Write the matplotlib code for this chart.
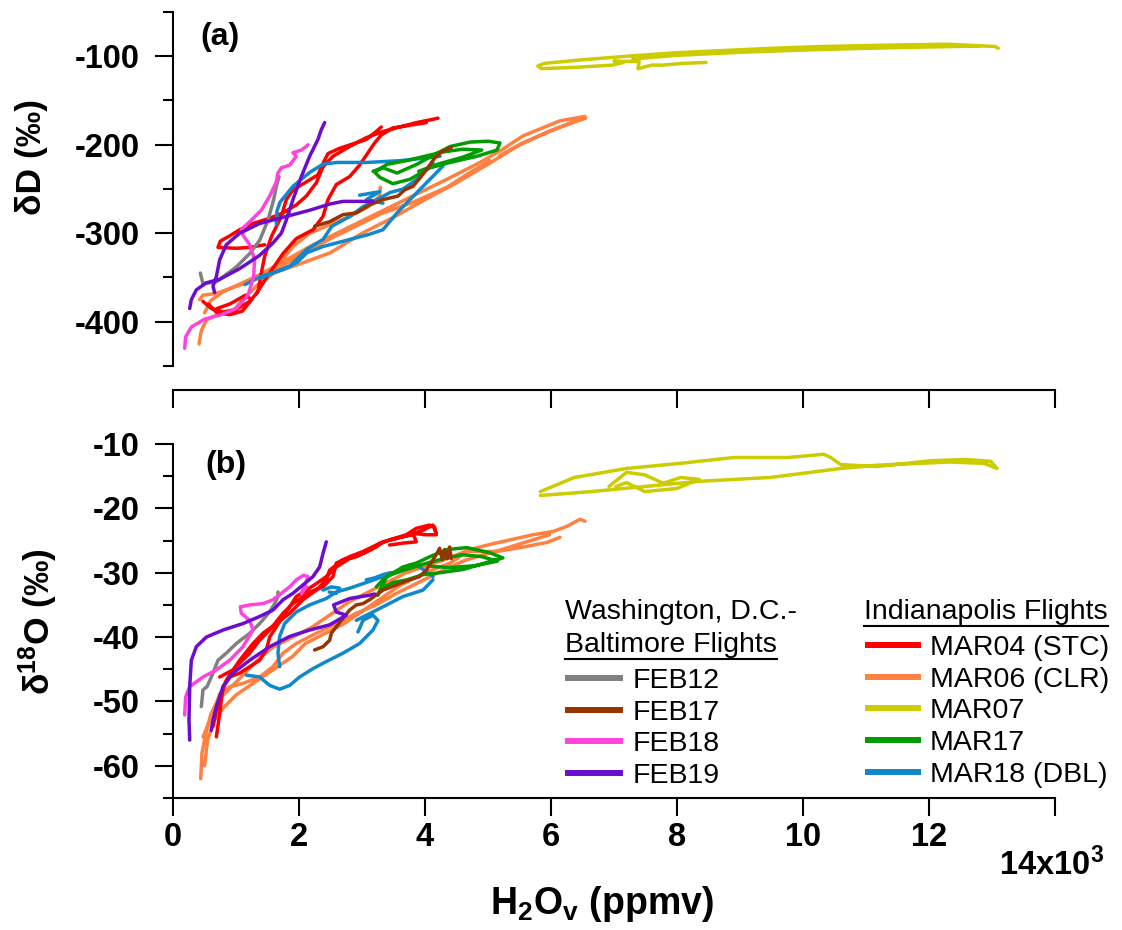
import matplotlib
matplotlib.use("Agg")
import matplotlib.pyplot as plt
import numpy as np
from matplotlib.lines import Line2D
from matplotlib.ticker import MultipleLocator, FuncFormatter

nan = np.nan

# ---- data: H2Ov (ppmv) vs dD (panel a) and d18O (panel b), nan = gap ----
feb12_xa = [434, 476, 688, 1005, 1217, 1376, 1508, 1598, 1640, 1683]
feb12_da = [-345, -357, -355, -338, -323, -308, -285, -262, -247, -236]
feb12_xb = [450, 476, 540, 635, 714, 846, 1005, 1217, 1375, 1534, 1613, 1666, 1666]
feb12_ob = [-50.8, -48.2, -47.7, -45.6, -43.6, -42.5, -41.0, -39.4, -37.9, -36.1, -34.8, -33.7, -33.0]

feb17_xa = [2248, 2486, 2698, 2910, 3121, 3333, 3571, 3677, 3809, 3915, 4047, 4153, 4259, 4338, 4417]
feb17_da = [-292, -287, -279, -277, -268, -262, -258, -251, -247, -238, -226, -215, -208, -206, -203]
feb17_xb = [2248, 2381, 2486, 2513, 2592, 2698, 2804, 2910, 3016, 3121, 3333, 3544, 3756, 3915, 4020,
            4126, 4190, 4232, 4274, 4311, 4354, 4391, 4417]
feb17_ob = [-42.0, -41.5, -40.5, -39.4, -38.4, -37.1, -35.8, -35.0, -34.8, -34.2, -32.7, -31.9, -31.1, -30.6,
            -29.6, -28.0, -27.0, -26.2, -28.0, -26.4, -27.8, -26.0, -27.8]

feb18_xa = [185, 201, 291, 503, 767, 1005, 1190, 1280, 1296, 1217, 1111, 1084, 1217, 1402, 1534, 1640,
            1666, 1719, 1852, 1957, 1904, 2037, 2116, 2142]
feb18_da = [-430, -417, -406, -397, -392, -385, -370, -349, -330, -313, -302, -296, -287, -274, -258, -242,
            -232, -226, -223, -213, -209, -206, -202, -200]
feb18_xb = [185, 201, 265, 476, 688, 899, 1111, 1270, 1217, 1084, 1069, 1217, 1428, 1587, 1719, 1852,
            1957, 2074, 2142, 2074, 2037, 2116]
feb18_ob = [-52.1, -49.3, -47.7, -46.2, -45.1, -43.6, -41.5, -38.9, -37.4, -36.3, -35.3, -35.0, -34.8, -34.2,
            -33.2, -32.2, -31.1, -30.4, -30.6, -32.4, -33.2, -32.2]

feb19_xa = [2407, 2354, 2301, 2169, 2037, 1904, 1799, 1719, 1587, 1375, 1058, 741, 529, 370, 291, 265, nan,
            661, 635, 688, 741, 846, 1058, 1375, 1746, 2169, 2486, 2698, 2910, 3174]
feb19_da = [-175, -183, -194, -213, -236, -262, -285, -300, -311, -325, -340, -352, -356, -364, -375, -385, nan,
            -367, -360, -349, -330, -313, -300, -289, -282, -274, -267, -264, -264, -264]
feb19_xb = [265, 254, 265, 291, 370, 529, 794, 1111, 1375, 1587, 1746, 1904, 2063, 2222, 2328, 2381, 2433, nan,
            608, 635, 688, 794, 952, 1217, 1534, 1852, 2169, 2486, 2751, 2592, 2550, 2804, 3121, 3200]
feb19_ob = [-56.0, -52.9, -47.7, -43.6, -41.5, -40.0, -38.9, -37.9, -36.8, -35.8, -34.2, -33.2, -31.9, -30.6,
            -29.1, -27.0, -25.2, nan,
            -54.5, -52.9, -50.8, -47.7, -45.6, -43.6, -41.5, -39.9, -38.9, -38.1, -36.6, -36.1, -35.0, -34.0,
            -33.5, -33.3]

mar04_xa = [1455, 1217, 1005, 714, 750, 899, 1058, 1270, 1534, 1746, 1957, 2116, 2275, 2381, 2539, 2804,
            3068, 3333, 3650, 3862, 4073, 4206, nan,
            476, 608, 794, 1005, 1217, 1349, 1402, 1455, 1561, 1719, 1799, 1904, 2116, 2301, 2381, 2460,
            2645, 2857, 3068, 3227, 3306, nan,
            1323, 1534, 1746, 1957, 2222, 2381, 2460, 2592, 2804, 2962, 3095, 3200, 3306, 3491, 3756, 4020, nan,
            560, 700, 900, 1100, 1250, 1150, 900, 700]
mar04_da = [-313, -316, -317, -316, -309, -303, -296, -289, -283, -277, -268, -258, -243, -225, -213, -202,
            -192, -185, -179, -175, -172, -170, nan,
            -377, -385, -389, -386, -377, -366, -345, -326, -304, -281, -262, -251, -242, -234, -221, -210,
            -204, -199, -194, -185, -180, nan,
            -368, -345, -323, -306, -296, -281, -262, -245, -236, -223, -209, -198, -189, -181, -178, -175, nan,
            -380, -390, -392, -388, -375, -370, -380, -385]
mar04_xb = [688, 741, 794, 899, 1058, 1217, 1375, 1481, 1534, 1640, 1746, 1852, 1957, 2116, 2275, 2433,
            2592, 2804, 3016, 3227, 3333, 3544, 3756, 3968, 4126, 4179, nan,
            741, 952, 1217, 1375, 1534, 1746, 1904, 2169, 2381, 2539, 2592, 2804, 3016, 3227, 3439, 3650, 3809, nan,
            635, 714, 846, 1058, 1270, 1428, 1640, 1852, 2063, 2275, 2433, 2486, 2698, 2910, 3121, 3280, nan,
            3439, 3703, 3862, 4073, 4153, 4179, 4020, 3809, 3862, 3650, 3439]
mar04_ob = [-55.5, -51.9, -47.7, -46.2, -45.6, -44.6, -43.6, -42.0, -40.0, -38.4, -36.8, -35.3, -33.7, -32.7,
            -31.7, -30.6, -29.1, -27.8, -27.0, -26.0, -25.2, -24.7, -24.1, -23.4, -22.6, -23.9, nan,
            -46.2, -45.1, -42.5, -40.5, -38.9, -36.3, -34.8, -33.0, -32.2, -30.6, -28.5, -27.5, -26.7, -25.7,
            -24.9, -24.4, -24.1, nan,
            -53.9, -50.3, -46.7, -43.6, -41.0, -39.4, -37.9, -36.3, -34.2, -32.7, -31.1, -29.6, -28.0, -27.5,
            -26.5, -25.4, nan,
            -24.9, -24.1, -23.1, -22.6, -22.9, -24.1, -24.1, -23.9, -25.2, -25.4, -25.7]

mar06_xa = [413, 450, 530, 700, 950, 1150, 1350, 1600, 2000, 2500, 3000, 3500, 4000, 4500, 5000, 5500,
            6000, 6300, 6550, nan,
            500, 600, 800, 1100, 1400, 1800, 2200, 2600, 3000, 3400, 3800, 4349, 4872, 5237, 5555, 5900,
            6142, 6538, nan,
            1300, 1700, 2100, 2500, 2900, 3300, 3809, 4349, 4700, 5031, nan, 5190, 5555, 5936, 6253, 6500, nan,
            1640, 1904, 2169, 2433, 2804, 3100, 3280, 3290, nan,
            423, 476, 688, 1005, 1323]
mar06_da = [-425, -410, -398, -392, -388, -372, -358, -345, -335, -322, -300, -282, -262, -243, -222, -200,
            -184, -176, -170, nan,
            -390, -376, -366, -356, -346, -330, -314, -300, -286, -272, -258, -239, -220, -205, -190, -180,
            -173, -168, nan,
            -352, -338, -322, -306, -292, -278, -265, -248, -232, -218, nan, -212, -198, -186, -177, -170, nan,
            -338, -315, -300, -292, -281, -270, -258, -248, nan,
            -375, -370, -368, -360, -352]
mar06_xb = [476, 635, 741, 899, 1111, 1375, 1587, 1746, 1957, 2275, 2592, 2910, 3227, 3544, 3862, 4285,
            4655, 5184, 5977, nan,
            440, 460, 520, 600, 700, 800, 1000, 1200, 1400, 1600, 1900, 2200, 2500, 2800, 3100, 3400, 3700,
            4000, 4300, 4713, 5031, 5396, 5713, 6031, 6253, 6459, 6538, nan,
            500, 550, 650, 800, 1000, 1300, 1600, 1900, 2100, 2400, 2700, 3000, 3300, 3600, 4000, 4400, 4666,
            5142, 5507, 5935, 6142]
mar06_ob = [-55.5, -51.9, -48.8, -47.7, -47.2, -46.2, -44.6, -42.5, -41.0, -39.4, -37.9, -36.3, -35.0, -33.2,
            -31.7, -29.6, -28.0, -26.5, -24.1, nan,
            -62, -58, -55, -52, -50, -49, -47, -45, -43, -41.5, -40, -38.5, -36.5, -34.5, -33, -31.5, -30,
            -29, -28, -26.4, -25.6, -24.8, -24.1, -23.6, -22.8, -21.7, -22.0, nan,
            -60, -56, -53, -51, -49, -47, -45, -43, -41, -39.5, -38, -36, -34, -32, -30, -28.5, -26.7,
            -26.7, -26.1, -25.3, -24.5]

mar07_xa = [13100, 13050, 12300, 11300, 10300, 9500, 8900, 8000, 7200, 6500, 5900, 5790, 5850, 6400, 6980,
            7150, 7000, 7400, 7380, 7600, 7780, 8100, 8460, nan,
            7300, 8000, 9000, 10000, 11000, 12000, 12800]
mar07_da = [-91, -89, -86.4, -87.5, -89, -91, -93, -96, -100, -104, -108, -111, -114, -112.5, -110,
            -107, -105.5, -106, -114, -110, -110, -108, -107, nan,
            -103, -99, -95.5, -93, -91, -89.5, -88.5]
mar07_xb = [5830, 6370, 7200, 8060, 8900, 9760, 10330, 10440, 10600, 11170, 12030, 12590, 12980,
            13080, 12870, 12320, 11170, 10600, 9480, 8350, 7490, 6630, 5830, nan,
            6920, 7200, 7490, 7780, 8060, 8350, 8000, 7490, 7200, 7030]
mar07_ob = [-17.4, -15.2, -13.8, -13.0, -12.1, -12.1, -11.6, -12.1, -13.2, -13.5, -12.6, -12.4, -12.7,
            -13.8, -13.0, -12.8, -13.3, -13.8, -15.2, -15.8, -16.6, -17.4, -18.0, nan,
            -16.6, -14.4, -14.8, -16.1, -15.2, -15.5, -16.9, -17.4, -16.0, -16.6]

mar17_xa = [3175, 3333, 3556, 3873, 4127, 4397, 4714, 5000, 5190, 5143, 4825, 4397, 4080, 3762, 3492, 3286,
            3200, 3400, 3700, 4000, 4300, 4600, 4900, 4600, 4200, 3900]
mar17_da = [-230, -226, -232, -222, -212, -202, -197, -196, -198, -206, -213, -220, -226, -239, -244, -237,
            -231, -222, -218, -213, -208, -205, -206, -214, -222, -230]
mar17_xb = [3227, 3333, 3500, 3650, 3862, 4079, 4349, 4666, 5031, 5237, 4983, 4602, 4237, 3968, 3714, 3500,
            3300, 3250, 3400, 3700, 4000, 4300, 4600, 4900, 5150, 4800, 4400, 4100]
mar17_ob = [-32.2, -31.1, -30.0, -29.1, -28.5, -27.5, -26.4, -26.1, -26.9, -27.7, -28.4, -29.5, -30.0, -30.3,
            -31.1, -31.5, -32.5, -33.5, -30.5, -29.5, -28.6, -27.8, -27.2, -27.5, -28.2, -28.9, -29.2, -29.0]

mar18_xa = [1143, 1381, 1746, 1968, 2127, 2381, 2809, 3126, 3333, 3556, 3762, 3968, 4190, 4285, nan,
            1381, 1857, 2127, 2381, 2523, 2809, 3016, 3238, 3444, 3651, 3873, 4127, nan,
            1640, 1650, 1698, 1904, 2174, 2381, 2603, 3079, 3603, 3873, 4127, 4238, nan,
            2962, 3280, 3070, 3333]
mar18_da = [-358, -349, -341, -333, -322, -315, -307, -301, -296, -277, -262, -247, -231, -224, nan,
            -351, -337, -318, -307, -292, -281, -270, -262, -254, -250, -239, -220, nan,
            -290, -275, -265, -247, -231, -222, -220, -220, -218, -216, -214, -213, nan,
            -257, -253, -262, -266]
mar18_xb = [1164, 1375, 1534, 1693, 1852, 2010, 2222, 2433, 2698, 2962, 3174, 3254, 3174, 3016, 2936, nan,
            2910, 3333, 3650, 3968, 4126, nan,
            1693, 1666, 1693, 1772, 1957, 2169, 2433, 2592, 2804, 3016, 3333, 3544, 3756, 3915, 4126, nan,
            2381, 2513, 2645, 2592, 2480, nan, 3068, 3200, 3333, 3450]
mar18_ob = [-45.9, -46.2, -47.5, -48.1, -47.5, -46.2, -44.9, -43.8, -42.5, -41.0, -38.9, -37.4, -36.6, -37.4,
            -39.2, nan,
            -37.4, -35.3, -33.7, -32.7, -31.1, nan,
            -44.6, -42.5, -39.9, -37.9, -36.1, -35.0, -34.0, -33.0, -32.4, -31.7, -30.6, -29.8, -28.8, -29.1,
            -30.6, nan,
            -32.7, -32.2, -32.4, -33.2, -33.0, nan, -31.1, -30.8, -30.3, -30.0]

dc_names = ["FEB12", "FEB17", "FEB18", "FEB19"]
indy_names = ["MAR04 (STC)", "MAR06 (CLR)", "MAR07", "MAR17", "MAR18 (DBL)"]
colors = {"FEB12": "#808080", "FEB17": "#993300", "FEB18": "#FF44DD", "FEB19": "#6A0DCF",
          "MAR04 (STC)": "#FF0000", "MAR06 (CLR)": "#FF8040", "MAR07": "#CCCC00",
          "MAR17": "#009C00", "MAR18 (DBL)": "#1188CC"}

flights = {
    "MAR06 (CLR)": (mar06_xa, mar06_da, mar06_xb, mar06_ob),
    "MAR04 (STC)": (mar04_xa, mar04_da, mar04_xb, mar04_ob),
    "MAR18 (DBL)": (mar18_xa, mar18_da, mar18_xb, mar18_ob),
    "MAR17": (mar17_xa, mar17_da, mar17_xb, mar17_ob),
    "MAR07": (mar07_xa, mar07_da, mar07_xb, mar07_ob),
    "FEB12": (feb12_xa, feb12_da, feb12_xb, feb12_ob),
    "FEB17": (feb17_xa, feb17_da, feb17_xb, feb17_ob),
    "FEB18": (feb18_xa, feb18_da, feb18_xb, feb18_ob),
    "FEB19": (feb19_xa, feb19_da, feb19_xb, feb19_ob),
}

plt.rcParams['font.family'] = ['Liberation Sans', 'DejaVu Sans']
plt.rcParams['font.weight'] = 'bold'
plt.rcParams['axes.unicode_minus'] = False
plt.rcParams['mathtext.fontset'] = 'custom'
plt.rcParams['mathtext.rm'] = 'Liberation Sans:bold'
plt.rcParams['mathtext.bf'] = 'Liberation Sans:bold'
plt.rcParams['mathtext.it'] = 'Liberation Sans:bold'

W, H = 1122, 930
fig = plt.figure(figsize=(W / 100, H / 100), dpi=100)


def rect(x0, y0, x1, y1):
    return [x0 / W, 1 - y1 / H, (x1 - x0) / W, (y1 - y0) / H]


ax1 = fig.add_axes(rect(173, 12, 1055, 366))
ax2 = fig.add_axes(rect(173, 444, 1055, 798))

for name, (xa, da, xb, ob) in flights.items():
    kw = dict(color=colors[name], lw=2.5, solid_capstyle='round', solid_joinstyle='round')
    ax1.plot(xa, da, **kw)
    ax2.plot(xb, ob, **kw)

for ax in (ax1, ax2):
    ax.set_xlim(0, 14000)
    ax.spines['top'].set_visible(False)
    ax.spines['right'].set_visible(False)
    for s in ('left', 'bottom'):
        ax.spines[s].set_linewidth(1.5)
    ax.xaxis.set_major_locator(MultipleLocator(2000))
    ax.tick_params(which='major', direction='out', length=13, width=1.5)
    ax.tick_params(which='minor', direction='out', length=7, width=1.5)
    ax.tick_params(axis='y', labelsize=23.5, pad=11)
    ax.tick_params(axis='x', labelsize=23.5, pad=4)
    ax.xaxis.set_major_formatter(FuncFormatter(lambda v, p: '' if v > 13000 else '%d' % round(v / 1000)))

ax1.set_ylim(-450, -50)
ax1.yaxis.set_major_locator(MultipleLocator(100))
ax1.yaxis.set_minor_locator(MultipleLocator(50))
ax1.spines['bottom'].set_position(('outward', 17.3))
ax1.tick_params(axis='x', labelbottom=False)

ax2.set_ylim(-65, -10)
ax2.yaxis.set_major_locator(MultipleLocator(10))
ax2.yaxis.set_minor_locator(MultipleLocator(5))

fig.text(32 / W, 1 - 157 / H, 'δD (‰)', rotation=90, ha='center', va='center', fontsize=25.5, fontweight='bold')
fig.text(38 / W, 1 - 622 / H, 'δ$^{18}$O (‰)', rotation=90, ha='center', va='center', fontsize=25.5,
         fontweight='bold')
fig.text(602 / W, 1 - 904 / H, 'H$_2$O$_v$ (ppmv)', ha='center', va='center', fontsize=27, fontweight='bold')
fig.text(1052 / W, 1 - 865 / H, '14x10$^3$', ha='center', va='center', fontsize=23.5, fontweight='bold')
fig.text(200 / W, 1 - 37 / H, '(a)', ha='left', va='center', fontsize=23, fontweight='bold')
fig.text(205 / W, 1 - 465 / H, '(b)', ha='left', va='center', fontsize=23, fontweight='bold')

# legends
prop = {'size': 20.5, 'weight': 'normal'}
h1 = [Line2D([], [], color=colors[n], lw=4.3) for n in dc_names]
leg1 = ax2.legend(h1, dc_names, loc='upper left', bbox_to_anchor=(568 / W, 1 - 668 / H),
                  bbox_transform=fig.transFigure, frameon=False, prop=prop, handlelength=1.82,
                  handletextpad=0.46, labelspacing=0.2, borderpad=0, borderaxespad=0)
ax2.add_artist(leg1)
h2 = [Line2D([], [], color=colors[n], lw=4.3) for n in indy_names]
ax2.legend(h2, indy_names, loc='upper left', bbox_to_anchor=(868 / W, 1 - 635 / H),
           bbox_transform=fig.transFigure, frameon=False, prop=prop, handlelength=1.75,
           handletextpad=0.42, labelspacing=0.2, borderpad=0, borderaxespad=0)

fig.text(565 / W, 1 - 612 / H, 'Washington, D.C.-', ha='left', va='center', fontsize=20.5, fontweight='normal')
t2 = fig.text(565 / W, 1 - 645 / H, 'Baltimore Flights', ha='left', va='center', fontsize=20.5,
              fontweight='normal')
t3 = fig.text(864 / W, 1 - 612 / H, 'Indianapolis Flights', ha='left', va='center', fontsize=20.5,
              fontweight='normal')

fig.canvas.draw()
r = fig.canvas.get_renderer()
for t in (t2, t3):
    bb = t.get_window_extent(r)
    y = (bb.y0 - 1) / H
    fig.add_artist(Line2D([bb.x0 / W, bb.x1 / W], [y, y], transform=fig.transFigure, color='black', lw=1.5))

fig.savefig('out.png', dpi=100)
